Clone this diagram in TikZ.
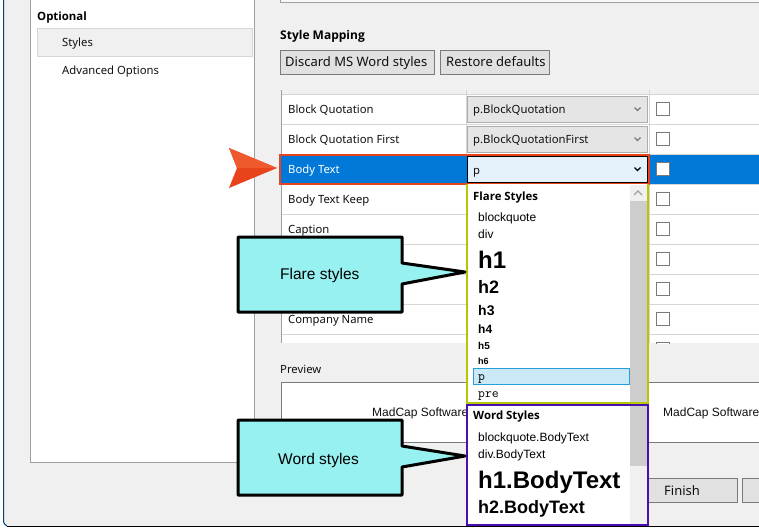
\documentclass[tikz,border=0pt]{standalone}
\usepackage{fontspec}
\setmainfont{Noto Sans}
\newfontfamily\arialf{Liberation Sans}
\newfontfamily\headf{Open Sans}
\definecolor{winbg}{HTML}{F0F0F0}
\definecolor{panel}{HTML}{A0A0A0}
\definecolor{rowline}{HTML}{D5D5D5}
\definecolor{selblue}{HTML}{0078D7}
\definecolor{redbox}{HTML}{E8431A}
\definecolor{redlite}{HTML}{EE5A2C}
\definecolor{combo}{HTML}{E5E5E5}
\definecolor{comboedge}{HTML}{ACACAC}
\definecolor{btn}{HTML}{E1E1E1}
\definecolor{btnedge}{HTML}{7A7A7A}
\definecolor{cyanbox}{HTML}{96F1F0}
\definecolor{flareedge}{HTML}{B5C800}
\definecolor{wordedge}{HTML}{4B0FB0}
\definecolor{scrollg}{HTML}{CDCDCD}
\definecolor{pickfill}{HTML}{CBE8F6}
\definecolor{pickedge}{HTML}{26A0DA}
\definecolor{focusfill}{HTML}{E5F1FB}
\definecolor{txt}{HTML}{101010}
\tikzset{
  ui/.style={anchor=base west,inner sep=0pt,text=txt,font=\fontsize{11.3}{14}\selectfont},
  uib/.style={anchor=base west,inner sep=0pt,text=black,font=\headf\bfseries\fontsize{11.4}{14}\selectfont},
  uibig/.style={anchor=base west,inner sep=0pt,text=txt,font=\fontsize{13}{15}\selectfont},
  btnbox/.style={draw=btnedge,fill=btn,line width=1pt},
  combobox/.style={draw=comboedge,fill=combo,line width=1pt},
  chk/.style={draw=btnedge,fill=white,line width=1pt},
  hd/.style={anchor=base west,inner sep=0pt,text=black},
  callout/.style={draw=black,fill=cyanbox,line width=3pt,line join=round},
  chev/.style={draw=#1,line width=1.1pt},
}
\newcommand{\chevron}[3]{\draw[chev=#3] (#1-3,#2-1.5) -- (#1,#2+1.5) -- (#1+3,#2-1.5);}
\begin{document}
\begin{tikzpicture}[x=1pt,y=-1pt]
\useasboundingbox (0,0) rectangle (759,528);
\fill[white] (0,0) rectangle (759,528);
% window
\fill[winbg,rounded corners=2pt] (4,-5) -- (4,526) -- (765,526) -- (765,-5) -- cycle;
\draw[draw=selblue!55!black,line width=1pt] (3.5,0) -- (3.5,522) to[bend right=20] (7,526);
\draw[black,line width=1pt] (7,526.2) -- (759,526.2);
% left panel
\draw[panel,fill=white,line width=1pt] (30.5,-5) rectangle (254.5,462.5);
\fill[winbg] (37,28) rectangle (253,56.5);
\draw[rowline,line width=1pt] (37.5,28.5) rectangle (252.5,56.5);
\node[uib] (optional) at (37,20) {Optional};
\node[ui] (styles) at (62,46) {Styles};
\node[ui] (advanced) at (62,74) {Advanced Options};
% top box
\draw[panel,fill=white!60!winbg,line width=1pt] (280.5,-5) rectangle (765,2.5);
% style mapping
\node[uib,font=\headf\bfseries\fontsize{12}{14}\selectfont] (mapping) at (280,39) {Style Mapping};
\draw[btnbox] (280.5,50.5) rectangle (434.5,74.5);
\node[uibig] (discard) at (285,66) {Discard MS Word styles};
\draw[btnbox] (440.5,50.5) rectangle (549.5,74.5);
\node[uibig] (restore) at (446,66) {Restore defaults};
% table
\begin{scope}
\clip (281,90) rectangle (759,343);
\fill[white] (281,94) rectangle (759,343);
\foreach \yy in {94,124,154,184,214,244,274,304,334}
  \draw[rowline,line width=1pt] (281,\yy.5) -- (759,\yy.5);
\draw[rowline,line width=1pt] (466.5,90) -- (466.5,343);
\draw[rowline,line width=1pt] (649.5,90) -- (649.5,343);
\draw[panel,line width=1pt] (281.5,90) -- (281.5,343);
\foreach \yy in {199,229,259,289,319,349}
  \draw[chk] (656.5,\yy-6.5) rectangle (669.5,\yy+6.5);
\end{scope}
\node[ui] (rowa) at (288,113) {Block Quotation};
\node[ui] (rowb) at (288,143) {Block Quotation First};
\node[ui] (rowd) at (288,203) {Body Text Keep};
\node[ui] (rowe) at (288,233) {Caption};
\node[ui] (rowf) at (288,323) {Company Name};
\draw[combobox] (467.5,96.5) rectangle (647.5,122.5);
\node[ui] (cba) at (473,113) {p.BlockQuotation};
\chevron{637.5}{109}{btnedge}
\draw[combobox] (467.5,126.5) rectangle (647.5,152.5);
\node[ui] (cbb) at (473,143) {p.BlockQuotationFirst};
\chevron{637.5}{139}{btnedge}
\draw[chk] (656.5,102.5) rectangle (669.5,115.5);
\draw[chk] (656.5,132.5) rectangle (669.5,145.5);
% selected row
\fill[selblue] (281,155) rectangle (759,184);
\node[ui,text=white] (rowc) at (288,173) {Body Text};
\draw[black,fill=focusfill,line width=1pt] (467.5,156.5) rectangle (647.5,182.5);
\node[ui] (cbc) at (473,174) {p};
\chevron{637.5}{169}{black}
\draw[chk] (656.5,162.5) rectangle (669.5,175.5);
\draw[redbox,line width=2pt] (280,155) rectangle (648.5,184);
% preview
\node[ui] (preview) at (280,373) {Preview};
\draw[btnedge,fill=white,line width=1pt] (281.5,382.5) -- (281.5,442.5) -- (765,442.5) -- (765,382.5) -- cycle;
\node[hd,text=txt,font=\arialf\fontsize{12}{14}\selectfont] (mada) at (372,416) {MadCap Software};
\node[hd,text=txt,font=\arialf\fontsize{12}{14}\selectfont] (madb) at (663,416) {MadCap Software};
% bottom buttons
\draw[btnbox] (649,478.5) -- (737.5,478.5) -- (737.5,502.5) -- (649,502.5);
\node[uibig] (finish) at (664,495) {Finish};
\draw[btnbox] (765,478.5) -- (742.5,478.5) -- (742.5,502.5) -- (765,502.5);
% flare dropdown
\fill[white] (467,184) rectangle (648,403);
\fill[scrollg] (630,185) rectangle (647,403);
\fill[winbg] (630,185) rectangle (647,201);
\draw[chev=panel] (634,195) -- (638,191) -- (642,195);
\draw[flareedge,line width=2pt] (467,184) -- (467,403) -- (648,403) -- (648,184);
\node[uib] (flaret) at (473,200) {Flare Styles};
\node[hd,font=\arialf\fontsize{12}{14}\selectfont] (fa) at (478,221) {blockquote};
\node[hd,font=\arialf\fontsize{12}{14}\selectfont] (fb) at (478,238) {div};
\node[hd,font=\arialf\bfseries\fontsize{24}{26}\selectfont] (fc) at (478,268) {h1};
\node[hd,font=\arialf\bfseries\fontsize{18}{20}\selectfont] (fd) at (478,293) {h2};
\node[hd,font=\arialf\bfseries\fontsize{14}{16}\selectfont] (fe) at (478,315) {h3};
\node[hd,font=\arialf\bfseries\fontsize{12}{14}\selectfont] (ff) at (478,333) {h4};
\node[hd,font=\arialf\bfseries\fontsize{10}{12}\selectfont] (fg) at (478,349) {h5};
\node[hd,font=\arialf\bfseries\fontsize{9}{11}\selectfont] (fh) at (478,364) {h6};
\draw[pickedge,fill=pickfill,line width=1pt] (473.5,368.5) rectangle (629.5,384.5);
\node[hd,font=\ttfamily\fontsize{13.3}{14}\selectfont] (fi) at (478,380) {p};
\node[hd,font=\ttfamily\fontsize{13.3}{14}\selectfont] (fj) at (478,397) {pre};
% word dropdown
\fill[white] (467,405) rectangle (648,525);
\fill[winbg] (630,405) rectangle (647,525);
\fill[scrollg] (630,405) rectangle (647,466);
\draw[wordedge,line width=2pt] (467,405) rectangle (648,525);
\node[uib] (wordt) at (473,419) {Word Styles};
\node[hd,font=\arialf\fontsize{12}{14}\selectfont] (wa) at (478,441) {blockquote.BodyText};
\node[hd,font=\arialf\fontsize{12}{14}\selectfont] (wb) at (478,458) {div.BodyText};
\node[hd,font=\arialf\bfseries\fontsize{24}{26}\selectfont] (wc) at (478,488) {h1.BodyText};
\node[hd,font=\arialf\bfseries\fontsize{18}{20}\selectfont] (wd) at (478,513) {h2.BodyText};
% orange arrow
\fill[redbox] (229,148) -- (277,168) -- (229,188) -- (237,168) -- cycle;
\fill[redlite] (229,148) -- (277,168) -- (237,168) -- cycle;
% callouts
\draw[callout] (238,237) -- (402,237) -- (402,263) -- (465,272) -- (402,284) -- (402,312) -- (238,312) -- cycle;
\node[hd,font=\arialf\fontsize{15.5}{17}\selectfont] (flarelbl) at (280,279) {Flare styles};
\draw[callout] (238,420) -- (402,420) -- (402,446) -- (465,456) -- (402,467) -- (402,495) -- (238,495) -- cycle;
\node[hd,font=\arialf\fontsize{15.5}{17}\selectfont] (wordlbl) at (278,464) {Word styles};
\end{tikzpicture}
\end{document}
